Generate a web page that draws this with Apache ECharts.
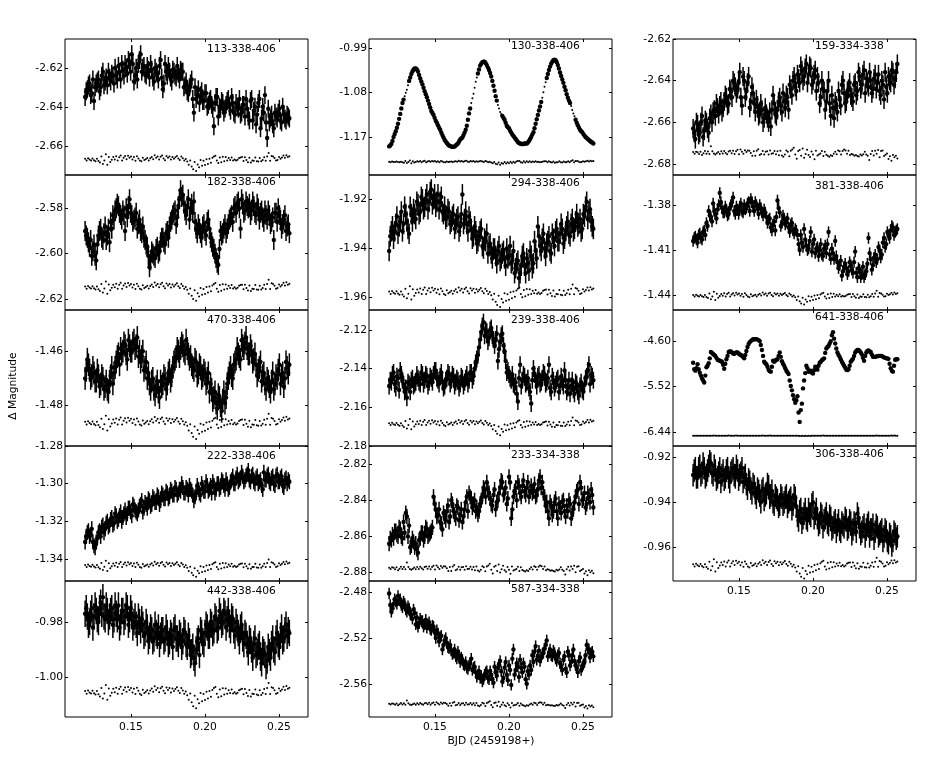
<!DOCTYPE html>
<html><head><meta charset="utf-8">
<style>html,body{margin:0;padding:0;background:#fff}#c{width:926px;height:772px}</style>
<script src="https://cdn.jsdelivr.net/npm/echarts@6/dist/echarts.min.js"></script>
</head><body><div id="c"></div>
<script>
// Time stamps of the target points
const bjd=[.1190,.1205,.1220,.1235,.1250,.1265,.1280,.1295,.1310,.1325,.1340,.1355,.1370,.1385,.1400,.1415,.1430,.1445,.1460,.1475,.1490,.1505,.1520,.1535,.1550,.1565,.1580,.1595,.1610,.1625,.1640,.1655,.1670,.1685,.1700,.1715,.1730,.1745,.1760,.1775,.1790,.1805,.1820,.1835,.1850,.1865,.1880,.1895,.1910,.1925,.1940,.1955,.1970,.1985,.2000,.2015,.2030,.2045,.2060,.2075,.2090,.2105,.2120,.2135,.2150,.2165,.2180,.2195,.2210,.2225,.2240,.2255,.2270,.2285,.2300,.2315,.2330,.2345,.2360,.2375,.2390,.2405,.2420,.2435,.2450,.2465,.2480,.2495,.2510,.2525,.2540,.2555,.2570];
const bjdB=[.11975,.12125,.12275,.12425,.12575,.12725,.12875,.13025,.13175,.13325,.13475,.13625,.13775,.13925,.14075,.14225,.14375,.14525,.14675,.14825,.14975,.15125,.15275,.15425,.15575,.15725,.15875,.16025,.16175,.16325,.16475,.16625,.16775,.16925,.17075,.17225,.17375,.17525,.17675,.17825,.17975,.18125,.18275,.18425,.18575,.18725,.18875,.19025,.19175,.19325,.19475,.19625,.19775,.19925,.20075,.20225,.20375,.20525,.20675,.20825,.20975,.21125,.21275,.21425,.21575,.21725,.21875,.22025,.22175,.22325,.22475,.22625,.22775,.22925,.23075,.23225,.23375,.23525,.23675,.23825,.23975,.24125,.24275,.24425,.24575,.24725,.24875,.25025,.25175,.25325,.25475,.25625];
// Time stamps of the comparison points
const bjdComp=[.119,.120,.121,.122,.123,.124,.125,.126,.127,.128,.129,.130,.131,.132,.133,.134,.135,.136,.137,.138,.139,.140,.141,.142,.143,.144,.145,.146,.147,.148,.149,.150,.151,.152,.153,.154,.155,.156,.157,.158,.159,.160,.161,.162,.163,.164,.165,.166,.167,.168,.169,.170,.171,.172,.173,.174,.175,.176,.177,.178,.179,.180,.181,.182,.183,.184,.185,.186,.187,.188,.189,.190,.191,.192,.193,.194,.195,.196,.197,.198,.199,.200,.201,.202,.203,.204,.205,.206,.207,.208,.209,.210,.211,.212,.213,.214,.215,.216,.217,.218,.219,.220,.221,.222,.223,.224,.225,.226,.227,.228,.229,.230,.231,.232,.233,.234,.235,.236,.237,.238,.239,.240,.241,.242,.243,.244,.245,.246,.247,.248,.249,.250,.251,.252,.253,.254,.255,.256,.257];
// Comparison pair curves, deviation in millimag from each panel's level
const comp338_406=[.1,-.9,.3,-.4,-.8,.2,-.7,-1.2,.1,-1.1,-1.9,1.2,-2.6,-.8,2.3,-3.1,1,-1.6,-.5,.9,-.3,1.3,-.9,.8,1.7,-.9,.5,1.4,-.2,1.6,.5,1.2,-.4,.9,-1,1.3,.2,-.9,-1.3,.6,-.6,-.2,.4,-.8,.3,1,-.2,1.8,.5,1.2,-.3,1.1,1.7,.2,-.7,1.4,.5,1.2,-.4,1,.1,.8,1.5,.2,-.6,1.2,.3,-.9,-.1,-1.4,-3.1,-.8,-4,-5.4,-1.6,-6.2,-2.9,-4.3,-.6,-3.6,-1,-3.2,-.2,-2.6,.1,-2,.5,1.2,1.6,-.9,-2.2,.7,-1.8,1.1,-1.2,1,-.9,.4,-.6,.7,-.8,-.3,-.9,-.5,.4,.7,.9,-1.1,.8,-.6,-1.7,.5,-1.9,-.9,-1,.7,-1.2,-1.4,.4,-1.3,-.6,.8,-1,1.2,3,-1,1.5,1.2,.4,-.9,-.6,1,.1,.7,1.7,.5,1.9,.9,1.3,1,1.6];
const comp334_338=[.2,-.6,.4,.1,-.7,.4,-1.2,-.4,.7,-.6,.5,-.7,3,.6,-.5,-1,-.4,.3,-.7,.6,-.5,.7,-.2,-.8,.5,.8,-.4,.9,-.7,.6,1.3,-.8,1.4,.4,-.6,1.1,.2,1,.8,-.2,-1.6,.6,-1.6,.9,1.6,-1.2,-.7,.7,-1,.4,.6,-.9,1,-.6,-.4,.7,-.8,.6,-1.3,.8,-1.4,-2,-.9,1,.4,-1.8,.8,1.4,2.3,-.9,-3,.7,1.2,-1.6,1.9,-2.5,-.7,1.3,-1.2,-2.1,.5,-.9,-3.2,.8,-1.4,-1,-.5,.7,-1.7,.4,-1.1,-1.5,-2,-1.3,-1.7,-.6,.4,-.8,1,.6,-.9,.7,1.4,1,-.6,.9,-1.2,-.7,-1,-1.5,-1.2,-1.7,-1.9,-1,-1.4,-.8,.4,-.9,-1.6,-3.6,-.7,.7,-1.4,.9,-.6,1.2,-2.3,.7,1,-1.7,-1.1,-.5,-3.1,-1.8,-4,-1.2,-2.3,-1.5,-2.9];

const m113=[-2.635,-2.631,-2.628,-2.633,-2.637,-2.628,-2.626,-2.630,-2.622,-2.627,-2.629,-2.625,-2.623,-2.628,-2.624,-2.619,-2.626,-2.621,-2.618,-2.623,-2.617,-2.613,-2.627,-2.620,-2.618,-2.613,-2.620,-2.623,-2.619,-2.625,-2.621,-2.627,-2.622,-2.626,-2.616,-2.631,-2.618,-2.624,-2.622,-2.627,-2.622,-2.625,-2.623,-2.621,-2.622,-2.629,-2.632,-2.630,-2.626,-2.643,-2.636,-2.631,-2.634,-2.637,-2.633,-2.640,-2.637,-2.639,-2.650,-2.635,-2.645,-2.641,-2.638,-2.641,-2.637,-2.640,-2.635,-2.643,-2.638,-2.641,-2.644,-2.639,-2.645,-2.641,-2.647,-2.636,-2.642,-2.649,-2.638,-2.651,-2.640,-2.634,-2.656,-2.648,-2.644,-2.651,-2.645,-2.643,-2.647,-2.640,-2.646,-2.644,-2.646];
const n113=[-2.632,-2.629,-2.634,-2.626,-2.630,-2.627,-2.632,-2.624,-2.629,-2.625,-2.622,-2.627,-2.624,-2.620,-2.626,-2.622,-2.618,-2.624,-2.620,-2.616,-2.622,-2.618,-2.624,-2.626,-2.616,-2.622,-2.619,-2.624,-2.621,-2.618,-2.625,-2.620,-2.623,-2.619,-2.625,-2.628,-2.622,-2.619,-2.625,-2.621,-2.624,-2.619,-2.626,-2.622,-2.630,-2.627,-2.633,-2.628,-2.636,-2.630,-2.634,-2.638,-2.632,-2.637,-2.633,-2.639,-2.636,-2.641,-2.638,-2.635,-2.640,-2.637,-2.643,-2.639,-2.636,-2.642,-2.638,-2.644,-2.640,-2.636,-2.643,-2.639,-2.636,-2.645,-2.637,-2.647,-2.640,-2.644,-2.636,-2.646,-2.643,-2.648,-2.641,-2.646,-2.649,-2.643,-2.646,-2.641,-2.648,-2.644,-2.647,-2.645];
const m182=[-2.590,-2.593,-2.597,-2.601,-2.596,-2.603,-2.592,-2.589,-2.594,-2.588,-2.592,-2.595,-2.589,-2.585,-2.580,-2.579,-2.583,-2.581,-2.590,-2.584,-2.576,-2.583,-2.585,-2.582,-2.587,-2.590,-2.588,-2.594,-2.597,-2.606,-2.599,-2.601,-2.598,-2.600,-2.595,-2.593,-2.596,-2.590,-2.588,-2.585,-2.582,-2.587,-2.579,-2.572,-2.574,-2.581,-2.579,-2.585,-2.578,-2.577,-2.589,-2.587,-2.591,-2.588,-2.590,-2.586,-2.589,-2.595,-2.598,-2.602,-2.605,-2.590,-2.591,-2.587,-2.589,-2.585,-2.583,-2.580,-2.582,-2.577,-2.589,-2.578,-2.581,-2.579,-2.578,-2.581,-2.579,-2.583,-2.580,-2.582,-2.584,-2.581,-2.585,-2.583,-2.586,-2.594,-2.582,-2.580,-2.585,-2.587,-2.583,-2.588,-2.591];
const n182=[-2.592,-2.595,-2.594,-2.599,-2.601,-2.596,-2.590,-2.593,-2.591,-2.594,-2.589,-2.586,-2.583,-2.581,-2.578,-2.582,-2.585,-2.583,-2.580,-2.579,-2.582,-2.586,-2.584,-2.589,-2.585,-2.591,-2.593,-2.596,-2.601,-2.603,-2.600,-2.602,-2.597,-2.599,-2.593,-2.595,-2.591,-2.593,-2.586,-2.583,-2.581,-2.584,-2.576,-2.575,-2.578,-2.583,-2.576,-2.580,-2.582,-2.586,-2.591,-2.589,-2.593,-2.587,-2.592,-2.585,-2.593,-2.597,-2.600,-2.604,-2.598,-2.592,-2.589,-2.591,-2.587,-2.584,-2.586,-2.579,-2.578,-2.580,-2.576,-2.582,-2.577,-2.580,-2.583,-2.577,-2.582,-2.578,-2.585,-2.581,-2.586,-2.583,-2.581,-2.587,-2.584,-2.582,-2.586,-2.583,-2.589,-2.585,-2.590,-2.587];
const m470=[-1.470,-1.463,-1.467,-1.469,-1.468,-1.471,-1.469,-1.472,-1.470,-1.473,-1.474,-1.471,-1.466,-1.468,-1.464,-1.461,-1.459,-1.460,-1.458,-1.463,-1.458,-1.460,-1.456,-1.458,-1.462,-1.464,-1.460,-1.466,-1.470,-1.472,-1.471,-1.474,-1.473,-1.475,-1.471,-1.472,-1.470,-1.472,-1.467,-1.469,-1.464,-1.462,-1.460,-1.459,-1.458,-1.461,-1.459,-1.463,-1.465,-1.467,-1.464,-1.468,-1.466,-1.469,-1.468,-1.470,-1.475,-1.474,-1.477,-1.479,-1.476,-1.480,-1.478,-1.479,-1.472,-1.468,-1.469,-1.465,-1.463,-1.461,-1.463,-1.458,-1.457,-1.459,-1.461,-1.460,-1.463,-1.465,-1.467,-1.464,-1.469,-1.472,-1.470,-1.473,-1.471,-1.474,-1.469,-1.467,-1.472,-1.468,-1.470,-1.466,-1.465];
const n470=[-1.467,-1.465,-1.470,-1.466,-1.471,-1.467,-1.473,-1.469,-1.474,-1.471,-1.475,-1.469,-1.472,-1.466,-1.462,-1.465,-1.461,-1.457,-1.461,-1.456,-1.460,-1.457,-1.459,-1.455,-1.460,-1.462,-1.467,-1.464,-1.468,-1.474,-1.470,-1.476,-1.471,-1.477,-1.473,-1.469,-1.474,-1.468,-1.471,-1.466,-1.463,-1.459,-1.462,-1.457,-1.460,-1.456,-1.461,-1.462,-1.466,-1.463,-1.469,-1.465,-1.470,-1.467,-1.472,-1.468,-1.472,-1.478,-1.475,-1.481,-1.477,-1.482,-1.475,-1.477,-1.470,-1.466,-1.470,-1.464,-1.459,-1.462,-1.456,-1.459,-1.455,-1.461,-1.458,-1.464,-1.461,-1.469,-1.466,-1.471,-1.468,-1.474,-1.471,-1.475,-1.468,-1.472,-1.470,-1.465,-1.469,-1.473,-1.464,-1.468];
const m222=[-1.331,-1.326,-1.328,-1.324,-1.333,-1.331,-1.326,-1.328,-1.322,-1.324,-1.320,-1.322,-1.318,-1.321,-1.317,-1.319,-1.315,-1.318,-1.314,-1.316,-1.313,-1.317,-1.312,-1.315,-1.314,-1.311,-1.315,-1.310,-1.313,-1.309,-1.311,-1.308,-1.310,-1.307,-1.309,-1.306,-1.308,-1.305,-1.307,-1.304,-1.306,-1.303,-1.305,-1.304,-1.302,-1.305,-1.303,-1.301,-1.304,-1.309,-1.305,-1.303,-1.306,-1.302,-1.304,-1.301,-1.303,-1.305,-1.301,-1.303,-1.300,-1.302,-1.299,-1.303,-1.300,-1.302,-1.298,-1.300,-1.297,-1.299,-1.297,-1.296,-1.298,-1.295,-1.298,-1.296,-1.299,-1.297,-1.300,-1.298,-1.303,-1.298,-1.296,-1.299,-1.297,-1.300,-1.296,-1.299,-1.297,-1.301,-1.298,-1.300,-1.299];
const n222=[-1.328,-1.325,-1.327,-1.331,-1.334,-1.329,-1.325,-1.323,-1.326,-1.321,-1.323,-1.319,-1.322,-1.316,-1.320,-1.317,-1.320,-1.316,-1.318,-1.313,-1.315,-1.311,-1.314,-1.316,-1.312,-1.309,-1.313,-1.311,-1.308,-1.312,-1.307,-1.310,-1.306,-1.311,-1.305,-1.308,-1.304,-1.308,-1.303,-1.306,-1.302,-1.306,-1.303,-1.300,-1.305,-1.302,-1.306,-1.303,-1.306,-1.307,-1.301,-1.305,-1.300,-1.304,-1.299,-1.304,-1.301,-1.299,-1.305,-1.300,-1.303,-1.298,-1.301,-1.298,-1.303,-1.299,-1.296,-1.300,-1.295,-1.298,-1.294,-1.299,-1.296,-1.293,-1.299,-1.295,-1.300,-1.296,-1.299,-1.301,-1.294,-1.298,-1.295,-1.300,-1.296,-1.301,-1.295,-1.299,-1.296,-1.302,-1.297,-1.298];
const m442=[-.977,-.978,-.980,-.975,-.978,-.976,-.980,-.973,-.971,-.979,-.976,-.978,-.975,-.979,-.977,-.974,-.980,-.976,-.978,-.975,-.979,-.977,-.980,-.981,-.978,-.983,-.981,-.984,-.982,-.985,-.983,-.986,-.984,-.982,-.985,-.983,-.986,-.984,-.987,-.985,-.983,-.986,-.988,-.985,-.987,-.984,-.989,-.987,-.991,-.993,-.990,-.986,-.983,-.987,-.984,-.982,-.985,-.981,-.983,-.979,-.982,-.978,-.980,-.977,-.979,-.981,-.978,-.983,-.980,-.984,-.982,-.986,-.984,-.988,-.986,-.990,-.988,-.992,-.989,-.993,-.990,-.992,-.994,-.991,-.988,-.990,-.986,-.988,-.985,-.987,-.983,-.985,-.984];
const n442=[-.975,-.981,-.977,-.982,-.974,-.979,-.975,-.977,-.978,-.974,-.980,-.976,-.981,-.974,-.979,-.982,-.976,-.980,-.974,-.981,-.975,-.982,-.978,-.984,-.980,-.979,-.985,-.980,-.987,-.982,-.987,-.981,-.985,-.988,-.983,-.987,-.982,-.988,-.984,-.989,-.982,-.986,-.984,-.989,-.983,-.988,-.985,-.992,-.989,-.995,-.987,-.992,-.984,-.988,-.981,-.985,-.980,-.984,-.978,-.983,-.976,-.981,-.976,-.982,-.976,-.983,-.979,-.985,-.982,-.987,-.981,-.988,-.985,-.991,-.987,-.993,-.986,-.991,-.988,-.995,-.991,-.996,-.989,-.993,-.986,-.991,-.984,-.989,-.982,-.986,-.981,-.983];
const m130=[-1.189,-1.184,-1.170,-1.158,-1.143,-1.123,-1.101,-1.087,-1.074,-1.056,-1.042,-1.033,-1.031,-1.037,-1.051,-1.063,-1.077,-1.089,-1.103,-1.117,-1.125,-1.137,-1.146,-1.155,-1.166,-1.176,-1.182,-1.187,-1.189,-1.190,-1.187,-1.183,-1.175,-1.171,-1.161,-1.147,-1.122,-1.101,-1.082,-1.058,-1.041,-1.025,-1.018,-1.017,-1.024,-1.034,-1.047,-1.066,-1.087,-1.105,-1.119,-1.127,-1.135,-1.147,-1.152,-1.161,-1.168,-1.174,-1.180,-1.183,-1.184,-1.183,-1.183,-1.178,-1.170,-1.160,-1.143,-1.125,-1.108,-1.090,-1.068,-1.050,-1.034,-1.021,-1.014,-1.014,-1.024,-1.039,-1.053,-1.068,-1.083,-1.096,-1.107,-1.122,-1.135,-1.146,-1.155,-1.160,-1.167,-1.172,-1.176,-1.180,-1.183];
const n130=[-1.187,-1.178,-1.164,-1.151,-1.133,-1.112,-1.094,-1.080,-1.065,-1.049,-1.037,-1.031,-1.033,-1.044,-1.057,-1.070,-1.083,-1.096,-1.110,-1.121,-1.131,-1.141,-1.151,-1.161,-1.171,-1.179,-1.185,-1.188,-1.190,-1.189,-1.185,-1.179,-1.173,-1.166,-1.155,-1.135,-1.112,-1.091,-1.070,-1.049,-1.033,-1.021,-1.017,-1.020,-1.029,-1.040,-1.056,-1.076,-1.096,-1.112,-1.123,-1.131,-1.141,-1.150,-1.157,-1.165,-1.171,-1.177,-1.182,-1.184,-1.184,-1.183,-1.181,-1.174,-1.165,-1.152,-1.134,-1.116,-1.099,-1.079,-1.059,-1.042,-1.027,-1.017,-1.013,-1.018,-1.031,-1.046,-1.060,-1.075,-1.090,-1.101,-1.115,-1.128,-1.141,-1.151,-1.158,-1.164,-1.170,-1.174,-1.178,-1.181];
const m294=[-1.941,-1.933,-1.936,-1.930,-1.934,-1.929,-1.933,-1.923,-1.929,-1.934,-1.926,-1.924,-1.928,-1.922,-1.925,-1.920,-1.923,-1.918,-1.921,-1.916,-1.920,-1.923,-1.918,-1.921,-1.925,-1.923,-1.927,-1.925,-1.929,-1.926,-1.930,-1.927,-1.931,-1.918,-1.928,-1.930,-1.927,-1.932,-1.935,-1.933,-1.937,-1.933,-1.939,-1.936,-1.934,-1.939,-1.942,-1.940,-1.943,-1.941,-1.945,-1.942,-1.944,-1.940,-1.943,-1.946,-1.941,-1.948,-1.945,-1.950,-1.943,-1.947,-1.944,-1.949,-1.943,-1.946,-1.941,-1.931,-1.939,-1.936,-1.940,-1.938,-1.935,-1.942,-1.936,-1.933,-1.937,-1.934,-1.932,-1.936,-1.931,-1.934,-1.930,-1.933,-1.929,-1.931,-1.928,-1.932,-1.927,-1.921,-1.925,-1.929,-1.932];
const n294=[-1.935,-1.931,-1.933,-1.927,-1.931,-1.925,-1.930,-1.926,-1.932,-1.923,-1.929,-1.926,-1.921,-1.926,-1.919,-1.924,-1.920,-1.924,-1.917,-1.922,-1.918,-1.921,-1.924,-1.919,-1.926,-1.928,-1.924,-1.930,-1.927,-1.932,-1.928,-1.933,-1.926,-1.930,-1.925,-1.933,-1.929,-1.936,-1.931,-1.938,-1.935,-1.932,-1.940,-1.937,-1.942,-1.938,-1.944,-1.940,-1.946,-1.939,-1.944,-1.941,-1.947,-1.944,-1.939,-1.945,-1.950,-1.946,-1.952,-1.947,-1.942,-1.950,-1.946,-1.941,-1.948,-1.937,-1.944,-1.935,-1.941,-1.934,-1.943,-1.937,-1.941,-1.934,-1.939,-1.932,-1.937,-1.930,-1.938,-1.933,-1.929,-1.935,-1.928,-1.932,-1.926,-1.930,-1.933,-1.926,-1.923,-1.928,-1.924,-1.931];
const m239=[-2.149,-2.147,-2.142,-2.150,-2.145,-2.141,-2.146,-2.152,-2.155,-2.148,-2.146,-2.149,-2.147,-2.145,-2.148,-2.143,-2.146,-2.144,-2.147,-2.145,-2.143,-2.141,-2.146,-2.144,-2.147,-2.149,-2.145,-2.143,-2.146,-2.144,-2.147,-2.146,-2.148,-2.145,-2.147,-2.143,-2.146,-2.142,-2.144,-2.137,-2.133,-2.125,-2.118,-2.123,-2.121,-2.124,-2.119,-2.125,-2.125,-2.136,-2.126,-2.122,-2.131,-2.142,-2.143,-2.146,-2.148,-2.147,-2.157,-2.138,-2.146,-2.144,-2.147,-2.150,-2.158,-2.140,-2.146,-2.144,-2.148,-2.145,-2.143,-2.147,-2.138,-2.152,-2.146,-2.148,-2.145,-2.149,-2.147,-2.141,-2.152,-2.146,-2.149,-2.151,-2.147,-2.152,-2.149,-2.151,-2.148,-2.144,-2.138,-2.143,-2.146];
const n239=[-2.146,-2.143,-2.148,-2.144,-2.151,-2.143,-2.148,-2.150,-2.147,-2.152,-2.145,-2.148,-2.143,-2.147,-2.142,-2.148,-2.143,-2.149,-2.144,-2.147,-2.141,-2.145,-2.148,-2.142,-2.150,-2.146,-2.142,-2.148,-2.143,-2.149,-2.145,-2.150,-2.144,-2.149,-2.145,-2.148,-2.142,-2.146,-2.140,-2.135,-2.129,-2.121,-2.116,-2.120,-2.126,-2.120,-2.123,-2.128,-2.122,-2.130,-2.123,-2.128,-2.136,-2.141,-2.145,-2.143,-2.149,-2.153,-2.145,-2.149,-2.143,-2.148,-2.145,-2.152,-2.146,-2.143,-2.149,-2.143,-2.147,-2.142,-2.148,-2.145,-2.150,-2.144,-2.150,-2.146,-2.152,-2.144,-2.149,-2.146,-2.150,-2.153,-2.146,-2.153,-2.148,-2.154,-2.147,-2.152,-2.145,-2.141,-2.148,-2.144];
const m233=[-2.864,-2.862,-2.861,-2.857,-2.860,-2.856,-2.861,-2.858,-2.849,-2.854,-2.865,-2.863,-2.864,-2.869,-2.861,-2.858,-2.860,-2.856,-2.859,-2.857,-2.838,-2.845,-2.848,-2.852,-2.856,-2.849,-2.846,-2.852,-2.840,-2.846,-2.850,-2.844,-2.848,-2.852,-2.845,-2.838,-2.836,-2.839,-2.842,-2.846,-2.848,-2.842,-2.838,-2.834,-2.830,-2.836,-2.842,-2.837,-2.845,-2.840,-2.833,-2.830,-2.836,-2.842,-2.827,-2.850,-2.838,-2.833,-2.830,-2.836,-2.832,-2.835,-2.833,-2.838,-2.832,-2.835,-2.838,-2.834,-2.827,-2.830,-2.838,-2.841,-2.850,-2.843,-2.846,-2.839,-2.850,-2.844,-2.841,-2.846,-2.843,-2.840,-2.850,-2.845,-2.838,-2.834,-2.830,-2.840,-2.836,-2.842,-2.838,-2.834,-2.844];
const n233=[-2.861,-2.859,-2.857,-2.859,-2.855,-2.860,-2.852,-2.847,-2.860,-2.866,-2.861,-2.866,-2.867,-2.862,-2.858,-2.862,-2.855,-2.860,-2.858,-2.855,-2.842,-2.849,-2.845,-2.853,-2.847,-2.851,-2.843,-2.849,-2.842,-2.848,-2.843,-2.851,-2.845,-2.849,-2.841,-2.846,-2.838,-2.844,-2.840,-2.844,-2.846,-2.840,-2.833,-2.838,-2.834,-2.839,-2.843,-2.834,-2.841,-2.836,-2.829,-2.837,-2.833,-2.839,-2.830,-2.845,-2.835,-2.840,-2.832,-2.838,-2.829,-2.837,-2.830,-2.835,-2.836,-2.831,-2.837,-2.829,-2.833,-2.836,-2.843,-2.846,-2.841,-2.848,-2.841,-2.846,-2.842,-2.847,-2.840,-2.849,-2.846,-2.842,-2.847,-2.841,-2.835,-2.842,-2.833,-2.839,-2.844,-2.836,-2.841,-2.837];
const m587=[-2.481,-2.497,-2.490,-2.488,-2.483,-2.486,-2.493,-2.490,-2.497,-2.494,-2.500,-2.495,-2.508,-2.510,-2.503,-2.505,-2.508,-2.511,-2.506,-2.513,-2.510,-2.520,-2.516,-2.519,-2.530,-2.522,-2.524,-2.529,-2.531,-2.533,-2.536,-2.532,-2.541,-2.539,-2.544,-2.546,-2.544,-2.538,-2.546,-2.550,-2.552,-2.555,-2.558,-2.552,-2.549,-2.556,-2.552,-2.559,-2.550,-2.546,-2.540,-2.558,-2.546,-2.552,-2.544,-2.561,-2.530,-2.548,-2.545,-2.539,-2.550,-2.545,-2.560,-2.552,-2.548,-2.541,-2.527,-2.536,-2.540,-2.534,-2.529,-2.522,-2.533,-2.535,-2.531,-2.538,-2.535,-2.542,-2.548,-2.536,-2.550,-2.535,-2.541,-2.530,-2.544,-2.550,-2.537,-2.545,-2.541,-2.526,-2.530,-2.533,-2.536];
const n587=[-2.491,-2.494,-2.486,-2.490,-2.487,-2.491,-2.488,-2.495,-2.492,-2.499,-2.503,-2.498,-2.502,-2.507,-2.505,-2.510,-2.504,-2.508,-2.512,-2.509,-2.515,-2.513,-2.523,-2.518,-2.526,-2.520,-2.528,-2.526,-2.534,-2.530,-2.538,-2.535,-2.537,-2.543,-2.541,-2.547,-2.542,-2.548,-2.545,-2.554,-2.549,-2.553,-2.556,-2.550,-2.555,-2.549,-2.556,-2.545,-2.553,-2.543,-2.549,-2.555,-2.541,-2.557,-2.548,-2.538,-2.552,-2.542,-2.554,-2.546,-2.542,-2.556,-2.549,-2.544,-2.535,-2.532,-2.539,-2.531,-2.537,-2.533,-2.526,-2.536,-2.530,-2.536,-2.533,-2.540,-2.533,-2.545,-2.539,-2.547,-2.532,-2.544,-2.535,-2.540,-2.546,-2.540,-2.548,-2.543,-2.535,-2.529,-2.537,-2.532];
const m159=[-2.663,-2.668,-2.661,-2.665,-2.657,-2.664,-2.660,-2.665,-2.656,-2.655,-2.657,-2.653,-2.652,-2.655,-2.650,-2.648,-2.651,-2.645,-2.640,-2.643,-2.644,-2.636,-2.652,-2.640,-2.645,-2.638,-2.650,-2.646,-2.655,-2.652,-2.656,-2.654,-2.658,-2.656,-2.660,-2.662,-2.647,-2.656,-2.654,-2.648,-2.655,-2.650,-2.647,-2.654,-2.644,-2.640,-2.643,-2.637,-2.641,-2.635,-2.638,-2.632,-2.637,-2.634,-2.640,-2.635,-2.638,-2.651,-2.640,-2.645,-2.650,-2.640,-2.657,-2.653,-2.650,-2.655,-2.649,-2.642,-2.646,-2.650,-2.644,-2.647,-2.650,-2.641,-2.645,-2.638,-2.642,-2.635,-2.639,-2.643,-2.640,-2.644,-2.637,-2.641,-2.645,-2.640,-2.649,-2.643,-2.638,-2.641,-2.636,-2.639,-2.632];
const n159=[-2.665,-2.660,-2.666,-2.660,-2.667,-2.659,-2.663,-2.658,-2.660,-2.654,-2.651,-2.656,-2.650,-2.653,-2.647,-2.652,-2.644,-2.648,-2.641,-2.646,-2.641,-2.648,-2.638,-2.648,-2.641,-2.653,-2.643,-2.651,-2.649,-2.657,-2.651,-2.660,-2.653,-2.658,-2.655,-2.654,-2.651,-2.657,-2.650,-2.652,-2.646,-2.653,-2.648,-2.642,-2.647,-2.638,-2.645,-2.639,-2.633,-2.640,-2.634,-2.641,-2.633,-2.642,-2.637,-2.645,-2.641,-2.648,-2.644,-2.654,-2.645,-2.651,-2.647,-2.658,-2.652,-2.645,-2.652,-2.640,-2.651,-2.645,-2.641,-2.648,-2.642,-2.647,-2.636,-2.644,-2.637,-2.646,-2.641,-2.636,-2.646,-2.639,-2.644,-2.637,-2.647,-2.642,-2.636,-2.646,-2.640,-2.635,-2.642,-2.636];
const m381=[-1.404,-1.401,-1.405,-1.399,-1.403,-1.397,-1.392,-1.384,-1.388,-1.379,-1.386,-1.383,-1.372,-1.382,-1.385,-1.383,-1.386,-1.380,-1.375,-1.386,-1.383,-1.381,-1.384,-1.380,-1.382,-1.378,-1.376,-1.381,-1.378,-1.382,-1.380,-1.385,-1.383,-1.388,-1.390,-1.395,-1.393,-1.397,-1.377,-1.385,-1.392,-1.389,-1.391,-1.395,-1.393,-1.397,-1.396,-1.400,-1.410,-1.405,-1.396,-1.407,-1.409,-1.398,-1.406,-1.412,-1.408,-1.410,-1.413,-1.409,-1.412,-1.398,-1.416,-1.412,-1.404,-1.418,-1.420,-1.427,-1.421,-1.422,-1.424,-1.420,-1.425,-1.411,-1.428,-1.423,-1.426,-1.428,-1.424,-1.402,-1.416,-1.420,-1.413,-1.416,-1.410,-1.413,-1.402,-1.406,-1.400,-1.397,-1.395,-1.398,-1.396];
const n381=[-1.402,-1.403,-1.400,-1.402,-1.398,-1.400,-1.394,-1.387,-1.391,-1.384,-1.389,-1.380,-1.378,-1.385,-1.381,-1.387,-1.382,-1.378,-1.384,-1.381,-1.386,-1.379,-1.385,-1.383,-1.379,-1.384,-1.378,-1.384,-1.380,-1.386,-1.382,-1.387,-1.385,-1.392,-1.389,-1.397,-1.391,-1.388,-1.382,-1.394,-1.387,-1.393,-1.389,-1.398,-1.392,-1.399,-1.397,-1.406,-1.400,-1.408,-1.403,-1.410,-1.404,-1.411,-1.403,-1.409,-1.414,-1.406,-1.414,-1.407,-1.406,-1.413,-1.409,-1.416,-1.414,-1.422,-1.417,-1.424,-1.419,-1.426,-1.418,-1.423,-1.418,-1.425,-1.422,-1.428,-1.421,-1.426,-1.419,-1.412,-1.423,-1.415,-1.418,-1.408,-1.415,-1.405,-1.408,-1.398,-1.402,-1.394,-1.400,-1.397];
const m641=[-5.04,-5.20,-5.07,-5.24,-5.36,-5.44,-5.13,-5.05,-4.82,-4.86,-4.90,-4.98,-5.00,-5.02,-5.16,-4.97,-4.82,-4.81,-4.85,-4.84,-4.83,-4.87,-4.90,-4.95,-4.80,-4.66,-4.60,-4.56,-4.56,-4.57,-4.60,-4.78,-5.02,-5.07,-5.18,-5.22,-5.00,-5.00,-4.97,-4.83,-5.01,-5.10,-5.20,-5.27,-5.51,-5.70,-5.85,-5.72,-6.24,-5.87,-5.40,-5.10,-5.22,-5.20,-5.26,-5.12,-5.18,-5.04,-4.99,-4.95,-4.75,-4.70,-4.60,-4.42,-4.65,-4.83,-4.92,-5.02,-5.10,-5.18,-5.17,-5.02,-4.96,-4.83,-4.78,-4.80,-4.87,-5.00,-4.83,-4.79,-4.82,-4.92,-4.92,-4.91,-4.90,-4.90,-4.93,-4.95,-4.96,-5.15,-5.22,-4.98,-4.97];
const n641=[-5.17,-5.15,-5.17,-5.30,-5.40,-5.30,-5.10,-4.95,-4.84,-4.88,-4.94,-4.99,-5.01,-5.08,-5.06,-4.90,-4.81,-4.83,-4.86,-4.83,-4.85,-4.88,-4.92,-4.88,-4.72,-4.62,-4.58,-4.57,-4.56,-4.58,-4.68,-4.90,-5.05,-5.12,-5.21,-5.12,-5.02,-4.98,-4.90,-4.92,-5.06,-5.15,-5.23,-5.40,-5.60,-5.78,-5.80,-6.05,-6.00,-5.56,-5.25,-5.15,-5.22,-5.24,-5.19,-5.15,-5.10,-5.02,-4.97,-4.84,-4.72,-4.65,-4.48,-4.55,-4.75,-4.88,-4.97,-5.06,-5.14,-5.19,-5.10,-4.99,-4.90,-4.80,-4.78,-4.83,-4.94,-4.90,-4.80,-4.81,-4.87,-4.92,-4.91,-4.90,-4.90,-4.92,-4.94,-4.95,-5.06,-5.20,-5.10,-4.97];
const m306=[-.928,-.925,-.929,-.924,-.927,-.925,-.928,-.924,-.923,-.928,-.926,-.929,-.925,-.928,-.930,-.926,-.929,-.927,-.925,-.929,-.926,-.928,-.925,-.929,-.932,-.930,-.934,-.932,-.936,-.934,-.937,-.935,-.939,-.936,-.933,-.937,-.940,-.937,-.939,-.941,-.938,-.940,-.937,-.940,-.938,-.941,-.938,-.946,-.944,-.949,-.945,-.947,-.943,-.946,-.940,-.945,-.947,-.949,-.946,-.948,-.945,-.950,-.947,-.951,-.948,-.950,-.952,-.949,-.951,-.948,-.951,-.949,-.952,-.950,-.945,-.951,-.953,-.950,-.952,-.949,-.952,-.950,-.953,-.951,-.954,-.952,-.955,-.953,-.958,-.955,-.957,-.954,-.955];
const n306=[-.926,-.929,-.925,-.928,-.923,-.929,-.926,-.922,-.927,-.924,-.930,-.927,-.931,-.926,-.929,-.925,-.931,-.926,-.928,-.924,-.930,-.927,-.931,-.928,-.934,-.931,-.936,-.933,-.938,-.935,-.940,-.934,-.937,-.932,-.938,-.935,-.941,-.938,-.942,-.937,-.941,-.938,-.942,-.939,-.943,-.937,-.942,-.948,-.943,-.947,-.943,-.948,-.945,-.941,-.947,-.943,-.950,-.945,-.951,-.947,-.949,-.946,-.952,-.949,-.953,-.948,-.953,-.950,-.947,-.952,-.948,-.954,-.949,-.953,-.947,-.954,-.951,-.955,-.950,-.955,-.952,-.956,-.950,-.955,-.953,-.957,-.952,-.957,-.954,-.959,-.953,-.956];

// Panel tick values
const ticks113=[-2.62,-2.64,-2.66],ticks182=[-2.58,-2.60,-2.62],ticks470=[-1.46,-1.48],ticks222=[-1.28,-1.30,-1.32,-1.34],ticks442=[-.98,-1.00];
const ticks130=[-.99,-1.08,-1.17],ticks294=[-1.92,-1.94,-1.96],ticks239=[-2.12,-2.14,-2.16,-2.18],ticks233=[-2.82,-2.84,-2.86,-2.88],ticks587=[-2.48,-2.52,-2.56];
const ticks159=[-2.62,-2.64,-2.66,-2.68],ticks381=[-1.38,-1.41,-1.44],ticks641=[-4.60,-5.52,-6.44],ticks306=[-.92,-.94,-.96];
const xTicks=[.15,.20,.25];

// name, column, row, y range, ticks, targets, interleaved targets, error, comparison curve, comparison level, title offset, thin points
const panels=[
 ['113-338-406',0,0,-2.6750,-2.6052,ticks113,m113,n113,.0046,comp338_406,-2.6667,10,[]],
 ['182-338-406',0,1,-2.6249,-2.5653,ticks182,m182,n182,.0044,comp338_406,-2.6146,7,[]],
 ['470-338-406',0,2,-1.4948,-1.4449,ticks470,m470,n470,.0042,comp338_406,-1.4860,10,[]],
 ['222-338-406',0,3,-1.3517,-1.2800,ticks222,m222,n222,.004,comp338_406,-1.3433,10,[]],
 ['442-338-406',0,4,-1.01454,-.9651,ticks442,m442,n442,.0048,comp338_406,-1.0052,10,[]],
 ['130-338-406',1,0,-1.2470,-.9710,ticks130,m130,n130,0,comp338_406,-1.2200,7,[7,8,37,38,39,49,50,69,70,82,83]],
 ['294-338-406',1,1,-1.9650,-1.9101,ticks294,m294,n294,.0042,comp338_406,-1.9576,8,[]],
 ['239-338-406',1,2,-2.1800,-2.1097,ticks239,m239,n239,.0044,comp338_406,-2.1683,10,[]],
 ['233-334-338',1,3,-2.8847,-2.8099,ticks233,m233,n233,.0042,comp334_338,-2.8775,9,[]],
 ['587-334-338',1,4,-2.5891,-2.4700,ticks587,m587,n587,.005,comp334_338,-2.5776,8,[]],
 ['159-334-338',2,0,-2.6853,-2.6200,ticks159,m159,n159,.0046,comp334_338,-2.6745,7,[]],
 ['381-338-406',2,1,-1.4498,-1.3601,ticks381,m381,n381,.0038,comp338_406,-1.4400,11,[]],
 ['641-338-406',2,2,-6.7290,-3.9690,ticks641,m641,n641,0,comp338_406,-6.5200,7,[]],
 ['306-338-406',2,3,-.9747,-.9152,ticks306,m306,n306,.005,comp338_406,-.9674,8,[]]
];
const colLeft=[65,369,673],rowTop=[39,175,310,446,581],rowBottom=[175,310,446,581,717],panelW=243,xMin=.1054,xMax=.2696;
const font='"DejaVu Sans"',fs=10.7;
const grid=[],xAxis=[],yAxis=[],series=[],graphic=[];
const bottomPanel={'442-338-406':1,'587-334-338':1,'306-338-406':1};
panels.forEach((p,k)=>{
 const [name,col,row,ymin,ymax,ticks,vals,vals2,err,comp,lvl,tOff,thin]=p;
 grid.push({left:colLeft[col],top:rowTop[row],width:panelW,height:rowBottom[row]-rowTop[row],show:true,borderColor:'#000',borderWidth:1,backgroundColor:'transparent'});
 const tick={show:true,inside:true,length:3,lineStyle:{color:'#000',width:1}};
 const line={show:false};
 xAxis.push({type:'value',gridIndex:k,min:xMin,max:xMax,position:'bottom',axisLine:line,splitLine:{show:false},
  axisTick:{...tick,customValues:xTicks},
  axisLabel:{show:!!bottomPanel[name],customValues:xTicks,formatter:v=>v.toFixed(2),fontFamily:font,fontSize:fs,color:'#000',margin:5}});
 xAxis.push({type:'value',gridIndex:k,min:xMin,max:xMax,position:'top',axisLine:line,splitLine:{show:false},axisTick:{...tick,customValues:xTicks},axisLabel:{show:false}});
 yAxis.push({type:'value',gridIndex:k,min:ymin,max:ymax,position:'left',axisLine:line,splitLine:{show:false},
  axisTick:{...tick,customValues:ticks},
  axisLabel:{show:true,customValues:ticks,formatter:v=>v.toFixed(2),fontFamily:font,fontSize:fs,color:'#000',margin:2}});
 yAxis.push({type:'value',gridIndex:k,min:ymin,max:ymax,position:'right',axisLine:line,splitLine:{show:false},axisTick:{...tick,customValues:ticks},axisLabel:{show:false}});
 const xi=k*2,yi=k*2;
 const pts=vals.map((v,i)=>[bjd[i],v,thin.includes(i)?2:4.4]).concat(vals2.map((v,i)=>[bjdB[i],v,thin.includes(i)?2:4.4]));
 if(err>0){
  series.push({type:'custom',xAxisIndex:xi,yAxisIndex:yi,silent:true,animation:false,clip:false,
   data:pts.map(q=>[q[0],q[1]-err,q[1]+err]),encode:{x:0,y:[1,2]},
   renderItem:(ps,api)=>{const a=api.coord([api.value(0),api.value(1)]),b=api.coord([api.value(0),api.value(2)]);
    return {type:'line',shape:{x1:a[0],y1:a[1],x2:b[0],y2:b[1]},style:{stroke:'#000',lineWidth:1.5}};}});
 }
 series.push({type:'scatter',xAxisIndex:xi,yAxisIndex:yi,silent:true,animation:false,clip:false,
  symbol:'circle',itemStyle:{color:'#000',opacity:1},
  symbolSize:v=>v[2],
  data:pts});
 series.push({type:'scatter',xAxisIndex:xi,yAxisIndex:yi,silent:true,animation:false,clip:false,
  symbol:'circle',symbolSize:2,itemStyle:{color:'#000',opacity:1},
  data:comp.map((v,i)=>[bjdComp[i],lvl+v/1000])});
 graphic.push({type:'text',x:colLeft[col]+142,y:rowTop[row]+tOff,silent:true,
  style:{text:name,fontFamily:font,fontSize:fs,fill:'#000',textAlign:'left',textVerticalAlign:'middle'}});
});
graphic.push({type:'text',x:13,y:386,rotation:Math.PI/2,silent:true,style:{text:'Δ Magnitude',fontFamily:font,fontSize:fs,fill:'#000',textAlign:'center',textVerticalAlign:'middle'}});
graphic.push({type:'text',x:491,y:741,silent:true,style:{text:'BJD (2459198+)',fontFamily:font,fontSize:fs,fill:'#000',textAlign:'center',textVerticalAlign:'middle'}});
const chart=echarts.init(document.getElementById('c'),null,{renderer:'canvas'});
chart.setOption({animation:false,backgroundColor:'#fff',grid,xAxis,yAxis,series,graphic});
</script></body></html>
